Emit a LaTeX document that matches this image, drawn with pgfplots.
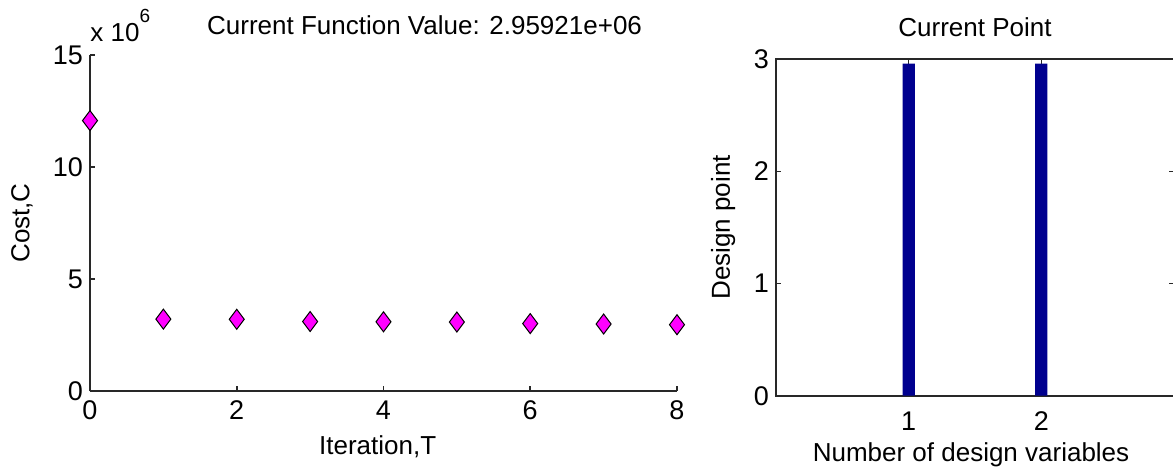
\documentclass[border=0pt]{standalone}
\usepackage{pgfplots}
\pgfplotsset{compat=1.18}
\usepackage{fontspec}
\setmainfont{Liberation Sans}
\definecolor{barblue}{RGB}{0,0,143}
\definecolor{mkmag}{RGB}{255,0,255}
\definecolor{axgray}{RGB}{40,40,40}
\begin{document}
\begin{tikzpicture}
\pgfplotsset{
  every axis/.append style={
    font=\fontsize{13}{15.6}\selectfont,
    scale only axis,
    /pgf/number format/assume math mode=true,
    tick align=inside,
    major tick length=2.5pt,
    axis line style={axgray, line width=0.8pt},
    every tick/.style={axgray, line width=0.8pt},
    tick label style={font=\fontsize{13.5}{16}\selectfont},
  }
}
% Left: cost vs iteration
\begin{axis}[
  at={(0,0)}, anchor=south west,
  width=293.5pt, height=168pt,
  xmin=0, xmax=8, ymin=0, ymax=15,
  axis x line*=bottom, axis y line*=left,
  xtick={0,2,4,6,8}, ytick={0,5,10,15},
  scaled y ticks=false,
  xticklabel style={yshift=-1.5pt},
  title={Current Function Value: 2.95921e+06},
  title style={at={(axis description cs:0.57,1)}, anchor=base, yshift=4.5pt},
  xlabel={Iteration,T},
  xlabel style={at={(axis description cs:0.49,-0.167)}, anchor=center},
  ylabel={Cost,C},
  ylabel style={at={(axis description cs:-0.116,0.5)}, anchor=center},
  clip=false,
]
\addplot[only marks, mark=diamond*, mark size=5pt,
  mark options={fill=mkmag, draw=black, line width=0.5pt}]
  coordinates {(0,12.07) (1,3.21) (2,3.20) (3,3.10) (4,3.09) (5,3.08) (6,3.01) (7,2.99) (8,2.96)};
\node[anchor=base west, inner sep=0pt] at ([yshift=7pt]axis description cs:0,1)
  {x 10\raisebox{9.5pt}{\fontsize{9.5}{10}\selectfont 6}};
\end{axis}
% Right: current point
\begin{axis}[
  at={(343pt,-2.35pt)}, anchor=south west,
  width=199pt, height=168.3pt,
  xmin=0, xmax=3, ymin=0, ymax=3,
  xtick={1,2}, ytick={0,1,2,3},
  xticklabel style={yshift=-4.5pt},
  title={Current Point},
  title style={at={(axis description cs:0.5,1)}, anchor=base, yshift=5.5pt},
  xlabel={Number of design variables},
  xlabel style={at={(axis description cs:0.49,0)}, anchor=base, yshift=-33pt},
  ylabel={Design point},
  ylabel style={at={(axis description cs:-0.133,0.5)}, anchor=center},
]
\addplot[ybar, bar width=6.15pt, bar shift=0pt, fill=barblue, draw=none]
  coordinates {(1,2.96) (2,2.96)};
\end{axis}
\pgfresetboundingbox
\path[use as bounding box] (-45pt,-38.5pt) rectangle (541.5pt,195.5pt);
\end{tikzpicture}
\end{document}
